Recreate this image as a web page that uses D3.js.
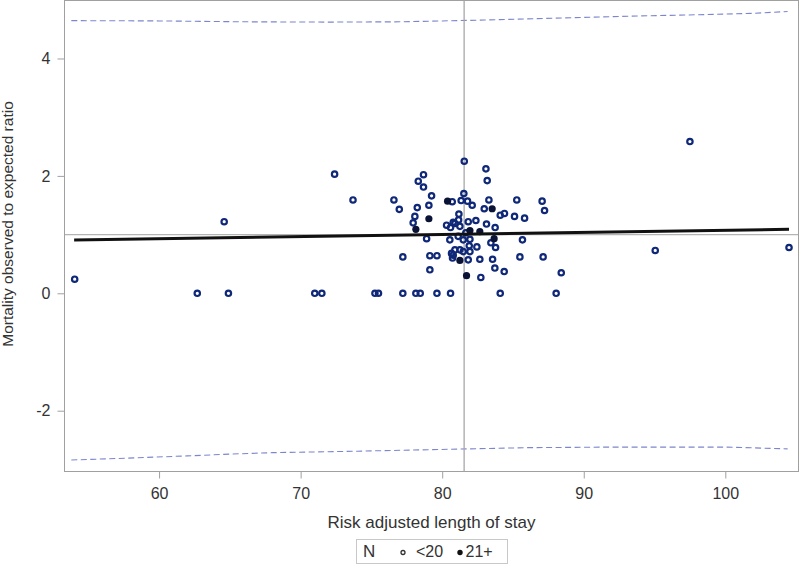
<!DOCTYPE html>
<html>
<head>
<meta charset="utf-8">
<script src="https://cdn.jsdelivr.net/npm/d3@7"></script>
<style>
  html, body { margin: 0; padding: 0; background: #fff; }
  svg { display: block; font-family: "Liberation Sans", Arial, sans-serif; }
</style>
</head>
<body>
<svg id="chart" width="800" height="564"></svg>
<script>
// ---------- data ----------
const xTicks = [60, 70, 80, 90, 100];
const yTicks = [-2, 0, 2, 4];
const xTitle = "Risk adjusted length of stay";
const yTitle = "Mortality observed to expected ratio";
const legendTitle = "N";
const legendLabels = ["<20", "21+"];

// hospitals with N < 20 (open markers)
const smallX = [81.56, 83.09, 83.18, 78.68, 78.31, 78.68, 81.53, 79.25, 76.59, 76.97,
  80.71, 81.34, 81.79, 82.12, 83.30, 85.27, 87.06, 87.23, 79.06, 78.24,
  82.97, 84.10, 84.40, 85.11, 85.82, 78.07, 77.95, 81.18, 80.31, 80.59,
  80.90, 81.16, 80.78, 81.25, 81.84, 82.38, 83.13, 83.74, 81.67, 78.90,
  80.54, 81.13, 81.49, 81.96, 83.44, 85.67, 82.45, 83.77, 80.90, 81.25,
  80.66, 81.49, 81.91, 81.96, 77.22, 79.13, 79.63, 80.73, 80.78, 81.84,
  82.66, 83.56, 85.49, 87.13, 79.13, 83.72, 84.38, 88.41, 82.73,
  75.25, 75.50, 77.22, 78.14, 78.45, 79.63, 80.59, 84.10, 88.05,
  54.04, 62.70, 64.90, 64.60, 71.00, 71.50, 72.40, 73.70,
  95.05, 97.50, 104.50];
const smallY = [2.25, 2.12, 1.92, 2.02, 1.91, 1.81, 1.70, 1.66, 1.59, 1.43,
  1.56, 1.58, 1.57, 1.50, 1.59, 1.59, 1.57, 1.41, 1.50, 1.46,
  1.44, 1.33, 1.36, 1.31, 1.28, 1.31, 1.20, 1.35, 1.16, 1.12,
  1.19, 1.25, 1.21, 1.14, 1.22, 1.24, 1.18, 1.12, 1.03, 0.93,
  0.91, 0.97, 0.91, 0.92, 0.86, 0.91, 0.79, 0.78, 0.74, 0.74,
  0.68, 0.71, 0.81, 0.71, 0.62, 0.64, 0.64, 0.60, 0.65, 0.57,
  0.58, 0.58, 0.62, 0.62, 0.40, 0.43, 0.37, 0.35, 0.27,
  0, 0, 0, 0, 0, 0, 0, 0, 0,
  0.24, 0, 0, 1.22, 0, 0, 2.03, 1.59,
  0.73, 2.585, 0.78];

// hospitals with N 21+ (filled markers)
const bigX = [80.38, 83.53, 79.06, 78.14, 82.66, 81.96, 83.67, 81.25, 81.72];
const bigY = [1.57, 1.44, 1.27, 1.09, 1.05, 1.07, 0.93, 0.56, 0.30];

// regression fit
const fitX = [54.0, 104.5];
const fitY = [0.908, 1.09];

// reference lines
const refX = 81.55;
const refY = 1;

// upper / lower limits (dashed)
const upperX = [53.8, 60, 66, 72, 77, 80, 83, 86, 90, 94, 98, 102, 104.4];
const upperY = [4.645, 4.64, 4.625, 4.62, 4.625, 4.64, 4.655, 4.675, 4.70, 4.725, 4.745, 4.77, 4.80];
const lowerX = [53.8, 57.6, 62, 65, 68, 74, 79, 86, 92, 100, 104.4];
const lowerY = [-2.84, -2.81, -2.77, -2.74, -2.715, -2.69, -2.665, -2.63, -2.62, -2.62, -2.65];

// ---------- layout ----------
const svg = d3.select("#chart");
const L = 64.5, R = 798.5, T = 0.5, B = 471.5;

const x = d3.scaleLinear().domain([53.32, 105.17]).range([L, R]);
const y = d3.scaleLinear().domain([-3.036, 4.988]).range([B, T]);

svg.append("defs").append("clipPath").attr("id", "clip")
  .append("rect").attr("x", L).attr("y", T).attr("width", R - L).attr("height", B - T);

const plot = svg.append("g").attr("clip-path", "url(#clip)");

// limits
const line = d3.line().x(d => x(d[0])).y(d => y(d[1]));
plot.append("path")
  .attr("d", line(d3.zip(upperX, upperY)))
  .attr("fill", "none").attr("stroke", "#7c86cc").attr("stroke-width", 1.1)
  .attr("stroke-dasharray", "6,3.5");
plot.append("path")
  .attr("d", line(d3.zip(lowerX, lowerY)))
  .attr("fill", "none").attr("stroke", "#7c86cc").attr("stroke-width", 1.1)
  .attr("stroke-dasharray", "6,3.5");

// reference lines
plot.append("line")
  .attr("x1", x(refX)).attr("x2", x(refX)).attr("y1", T).attr("y2", B)
  .attr("stroke", "#a8a8a8").attr("stroke-width", 1.3);
plot.append("line")
  .attr("x1", L).attr("x2", R).attr("y1", y(refY)).attr("y2", y(refY))
  .attr("stroke", "#b4b4b4").attr("stroke-width", 1.3);

// points
plot.append("g").selectAll("circle")
  .data(d3.zip(smallX, smallY)).join("circle")
  .attr("cx", d => x(d[0])).attr("cy", d => y(d[1])).attr("r", 2.7)
  .attr("fill", "none").attr("stroke", "#102878").attr("stroke-width", 2.2);
plot.append("g").selectAll("circle")
  .data(d3.zip(bigX, bigY)).join("circle")
  .attr("cx", d => x(d[0])).attr("cy", d => y(d[1])).attr("r", 3.6)
  .attr("fill", "#0a1235").attr("stroke", "none");

// fit line
plot.append("path")
  .attr("d", line(d3.zip(fitX, fitY)))
  .attr("fill", "none").attr("stroke", "#111").attr("stroke-width", 3);

// frame
svg.append("rect").attr("x", L).attr("y", T).attr("width", R - L).attr("height", B - T)
  .attr("fill", "none").attr("stroke", "#a0a0a0").attr("stroke-width", 1);

// axes
const xAxis = svg.append("g").attr("transform", `translate(0,${B})`)
  .call(d3.axisBottom(x).tickValues(xTicks).tickSize(7).tickPadding(9).tickFormat(d => String(d)));
const yAxis = svg.append("g").attr("transform", `translate(${L},0)`)
  .call(d3.axisLeft(y).tickValues(yTicks).tickSize(7).tickPadding(7).tickFormat(d => String(d)));
[xAxis, yAxis].forEach(a => {
  a.select(".domain").remove();
  a.selectAll(".tick line").attr("stroke", "#a0a0a0");
  a.selectAll(".tick text").attr("fill", "#333").style("font-size", "16px")
    .style("font-family", "'Liberation Sans', Arial, sans-serif");
});

// titles
svg.append("text").attr("x", (L + R) / 2).attr("y", 528)
  .attr("text-anchor", "middle").attr("fill", "#333").style("font-size", "17px")
  .text(xTitle);
svg.append("text").attr("transform", "translate(13,224) rotate(-90)")
  .attr("text-anchor", "middle").attr("fill", "#333").style("font-size", "15.5px")
  .text(yTitle);

// legend
const lg = svg.append("g");
lg.append("rect").attr("x", 356.5).attr("y", 539.5).attr("width", 151).attr("height", 24)
  .attr("fill", "#fff").attr("stroke", "#c8c8c8");
lg.append("text").attr("x", 363).attr("y", 557).attr("fill", "#333").style("font-size", "17px").text(legendTitle);
lg.append("circle").attr("cx", 403).attr("cy", 552.5).attr("r", 2)
  .attr("fill", "none").attr("stroke", "#333").attr("stroke-width", 1.3);
lg.append("text").attr("x", 416).attr("y", 557).attr("fill", "#333").style("font-size", "16px").text(legendLabels[0]);
lg.append("circle").attr("cx", 460).attr("cy", 552.5).attr("r", 2.7).attr("fill", "#111");
lg.append("text").attr("x", 465.5).attr("y", 557).attr("fill", "#333").style("font-size", "16px").text(legendLabels[1]);
</script>
</body>
</html>
